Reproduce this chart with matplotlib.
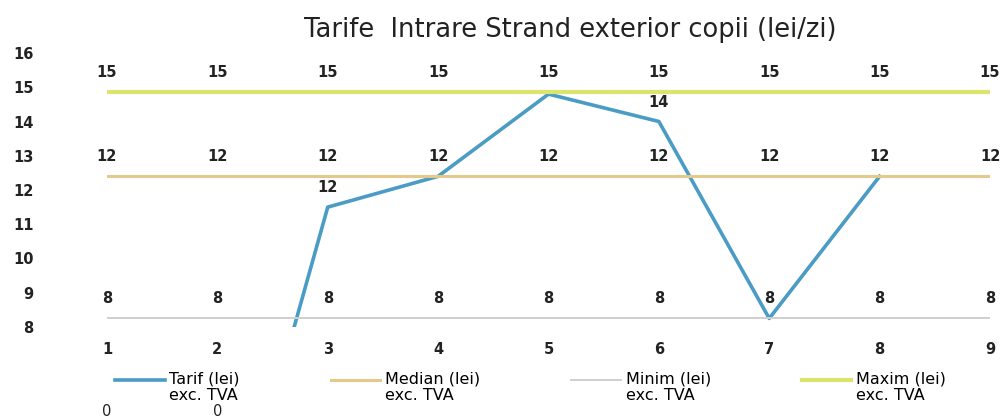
import numpy as np
import matplotlib.pyplot as plt
from matplotlib.legend_handler import HandlerLine2D

# --------------------

days = [1, 2, 3, 4, 5, 6, 7, 8, 9]
tarif = [0, 0, 11.5, 12.4, 14.8, 14.0, 8.25, 12.4, np.nan]
median = [12.4] * 9
minim = [8.25] * 9
maxim = [14.85] * 9

y_ticks = [8, 9, 10, 11, 12, 13, 14, 15, 16]
title = "Tarife  Intrare Strand exterior copii (lei/zi)"

series = [
    ("Tarif (lei)\nexc. TVA", tarif, "#4a9cc4", 2.6),
    ("Median (lei)\nexc. TVA", median, "#e3c98a", 2.2),
    ("Minim (lei)\nexc. TVA", minim, "#cfcfcf", 1.4),
    ("Maxim (lei)\nexc. TVA", maxim, "#dbe56e", 3.0),
]

# --------------------


class TopHandler(HandlerLine2D):
    # keep the legend line level with the first text line
    def create_artists(self, legend, orig_handle, xdescent, ydescent,
                       width, height, fontsize, trans):
        return super().create_artists(legend, orig_handle, xdescent,
                                      ydescent - 0.95 * fontsize, width,
                                      height, fontsize, trans)


fig = plt.figure(figsize = (10.07, 4.16), dpi = 100)
ax = fig.add_axes([107 / 1007, 1 - 327 / 416, (990 - 107) / 1007, (327 - 53) / 416])

handles = []
for i, (name, vals, color, lw) in enumerate(series):
    line, = ax.plot(days, vals, color = color, linewidth = lw, label = name, zorder = 2 + i)
    handles.append(line)
    for x, v in zip(days, vals):
        if np.isnan(v):
            continue
        if name.startswith("Tarif") and v in (12.4, 14.8, 8.25):
            continue
        lbl = str(int(round(v)))
        if v < 8:
            # zero values fall far below the axis; the labels sit at the bottom edge
            ax.annotate(lbl, xy = (x, 0), xycoords = ("data", "figure pixels"),
                        xytext = (0, 3), textcoords = "offset points",
                        ha = "center", va = "center", fontsize = 10.5,
                        color = "#222222", annotation_clip = False)
        else:
            ax.annotate(lbl, xy = (x, v), xytext = (0, 14), textcoords = "offset points",
                        ha = "center", va = "center", fontsize = 10.5, fontweight = "bold",
                        color = "#222222", annotation_clip = False)

ax.set_xlim(1, 9)
ax.set_ylim(8, 16)
ax.set_xticks(days)
ax.set_yticks(y_ticks)
ax.tick_params(axis = "y", length = 0, pad = 53, labelsize = 10.5, labelcolor = "#222222")
ax.tick_params(axis = "x", length = 0, pad = 11, labelsize = 10.5, labelcolor = "#222222")
for t in ax.get_xticklabels() + ax.get_yticklabels():
    t.set_fontweight("bold")
for s in ax.spines.values():
    s.set_visible(False)

fig.text(0.566, 0.927, title, ha = "center", va = "center", fontsize = 18.5, color = "#222222")

fig.legend(handles = handles, loc = "upper left", bbox_to_anchor = (115 / 1007, 1 - 371 / 416),
           ncol = 4, frameon = False, fontsize = 11.5, handlelength = 3.1,
           handletextpad = 0.3, columnspacing = 5.7, borderpad = 0, borderaxespad = 0,
           labelspacing = 0.2, handler_map = {h: TopHandler() for h in handles})

plt.savefig("out.png", dpi = 100)
